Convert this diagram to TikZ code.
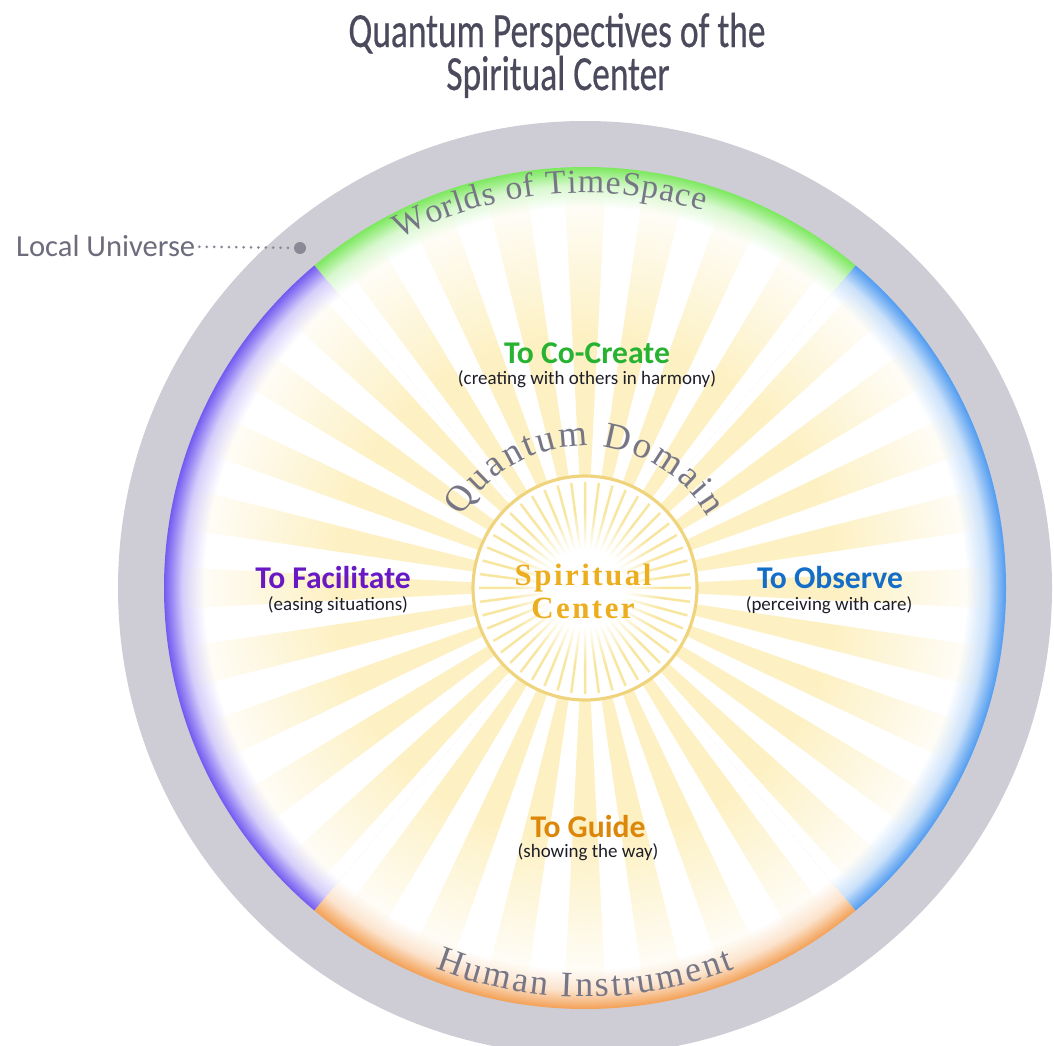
\documentclass[tikz,border=0pt]{standalone}
\usepackage{fontspec}
\setmainfont{Carlito}
\newfontfamily\titlefamily[FakeStretch=0.72, FakeBold=0.4]{Carlito}
\newfontfamily\arcserif{Liberation Serif}
\newfontfamily\centreserif[LetterSpace=8]{Liberation Serif}
\usepackage{xcolor}
\usetikzlibrary{decorations.text, fadings}

\definecolor{RingGray}{RGB}{206,205,213}
\definecolor{RimGreen}{RGB}{125,232,95}
\definecolor{RimBlue}{RGB}{80,155,240}
\definecolor{RimPurple}{RGB}{115,90,240}
\definecolor{RimOrange}{RGB}{243,160,85}
\definecolor{RayYellow}{RGB}{253,241,196}
\definecolor{RayLine}{RGB}{248,230,160}
\definecolor{CircleGold}{RGB}{240,212,125}
\definecolor{CenterGold}{RGB}{236,174,30}
\definecolor{ArcInk}{RGB}{118,118,134}
\definecolor{TitleInk}{RGB}{74,74,92}
\definecolor{LocalInk}{RGB}{108,108,124}
\definecolor{DotGray}{RGB}{138,138,150}
\definecolor{GlossInk}{RGB}{30,30,40}
\definecolor{CoCreateGreen}{RGB}{40,178,50}
\definecolor{FacilitatePurple}{RGB}{105,25,195}
\definecolor{ObserveBlue}{RGB}{20,110,200}
\definecolor{GuideOrange}{RGB}{220,135,10}

\newcommand\worldsfont{\arcserif\fontsize{9.6}{11}\selectfont}
\newcommand\humanfont{\arcserif\fontsize{10.2}{12}\selectfont}
\newcommand\domainfont{\arcserif\fontsize{10.5}{12}\selectfont}

% coloured rims, white inside
\pgfdeclareradialshading{rimGreen}{\pgfpointorigin}{color(0bp)=(white); color(22.6bp)=(white); color(23.9bp)=(RimGreen!30); color(24.6bp)=(RimGreen!75); color(25bp)=(RimGreen); color(50bp)=(RimGreen)}
\pgfdeclareradialshading{rimBlue}{\pgfpointorigin}{color(0bp)=(white); color(22.6bp)=(white); color(23.9bp)=(RimBlue!30); color(24.6bp)=(RimBlue!75); color(25bp)=(RimBlue); color(50bp)=(RimBlue)}
\pgfdeclareradialshading{rimPurple}{\pgfpointorigin}{color(0bp)=(white); color(22.6bp)=(white); color(23.9bp)=(RimPurple!30); color(24.6bp)=(RimPurple!75); color(25bp)=(RimPurple); color(50bp)=(RimPurple)}
\pgfdeclareradialshading{rimOrange}{\pgfpointorigin}{color(0bp)=(white); color(22.6bp)=(white); color(23.9bp)=(RimOrange!30); color(24.6bp)=(RimOrange!75); color(25bp)=(RimOrange); color(50bp)=(RimOrange)}

\pgfdeclareradialshading{rayshade}{\pgfpointorigin}{color(0bp)=(white); color(15bp)=(white); color(24bp)=(black); color(50bp)=(black)}
\pgfdeclarefading{rayfade}{\pgfuseshading{rayshade}}
\pgfdeclareradialshading{coreshade}{\pgfpointorigin}{color(0bp)=(black); color(9bp)=(black); color(18bp)=(white); color(50bp)=(white)}
\pgfdeclarefading{corefade}{\pgfuseshading{coreshade}}

\begin{document}
\begin{tikzpicture}[
  headline/.style={font={\titlefamily\fontsize{14}{16}\selectfont}, text=TitleInk, inner sep=0pt, anchor=base},
  verb/.style={font={\bfseries\fontsize{9}{11}\selectfont}, inner sep=0pt, anchor=base},
  gloss/.style={font={\fontsize{5.4}{7}\selectfont}, text=GlossInk, inner sep=0pt, anchor=base},
  arcwords/.style 2 args={decorate, decoration={text along path, text align=fit to path, text color=ArcInk, text={|#1|#2}}}
]

\useasboundingbox (0,0) rectangle (10.54,-10.45);
\clip (0,0) rectangle (10.54,-10.45);

\coordinate (ctr) at (5.85,-5.88);

\fill[RingGray] (ctr) circle[radius=4.67];
\foreach \rim/\from/\to in {Green/50/130, Purple/130/230, Orange/230/310, Blue/310/410}{
  \begin{scope}
    \clip (ctr) -- ([shift={(\from:5)}]ctr) arc[start angle=\from, end angle=\to, radius=5] -- cycle;
    \shade[shading=rim\rim] (ctr) circle[radius=4.21];
  \end{scope}
}

% rays
\fill[RayYellow, path fading=rayfade]
  \foreach \a in {0,11.25,...,348.75}{
    (ctr) -- ([shift={(\a-2.9:4.2)}]ctr) -- ([shift={(\a+2.9:4.2)}]ctr) -- cycle
  };

\fill[white] (ctr) circle[radius=1.12];
\draw[RayLine, line width=0.7pt, path fading=corefade]
  \foreach \a in {0,7.5,...,352.5}{
    ([shift={(\a:0.3)}]ctr) -- ([shift={(\a:1.06)}]ctr)
  };
\draw[CircleGold, line width=0.9pt] (ctr) circle[radius=1.12];

\path[arcwords={\worldsfont}{Worlds of TimeSpace}] ([shift={(118:3.95)}]ctr) arc[start angle=118, end angle=72.5, radius=3.95];
\path[arcwords={\humanfont}{Human Instrument}] ([shift={(248.5:4.09)}]ctr) arc[start angle=248.5, end angle=291.5, radius=4.09];
\path[arcwords={\domainfont}{Quantum Domain}] ([shift={(150:1.42)}]ctr) arc[start angle=150, end angle=30, radius=1.42];

\node[align=center, inner sep=0pt, text=CenterGold, font={\centreserif\bfseries\fontsize{8.8}{9.4}\selectfont}] (spirit) at (5.83,-5.91) {Spiritual\\Center};

\node[verb, text=CoCreateGreen] (cocreate) at (5.87,-3.63) {To Co-Create};
\node[gloss] (cocreategloss) at (5.87,-3.84) {(creating with others in harmony)};
\node[verb, text=FacilitatePurple] (facilitate) at (3.33,-5.88) {To Facilitate};
\node[gloss] (facilitategloss) at (3.38,-6.10) {(easing situations)};
\node[verb, text=ObserveBlue] (observe) at (8.30,-5.88) {To Observe};
\node[gloss] (observegloss) at (8.29,-6.10) {(perceiving with care)};
\node[verb, text=GuideOrange] (guide) at (5.88,-8.37) {To Guide};
\node[gloss] (guidegloss) at (5.88,-8.57) {(showing the way)};

\node[font={\fontsize{8.7}{10}\selectfont}, text=LocalInk, anchor=base west, inner sep=1pt] (localtext) at (0.12,-2.56) {Local Universe};
\node[circle, fill=DotGray, inner sep=0pt, minimum size=0.12cm] (localdot) at (3.00,-2.48) {};
\draw[DotGray, line width=0.85pt, line cap=round, dash pattern=on 0pt off 2.1pt] (localtext) -- (localdot);

\node[headline] (title1) at (5.57,-0.47) {Quantum Perspectives of the};
\node[headline] (title2) at (5.58,-0.90) {Spiritual Center};

\end{tikzpicture}
\end{document}
